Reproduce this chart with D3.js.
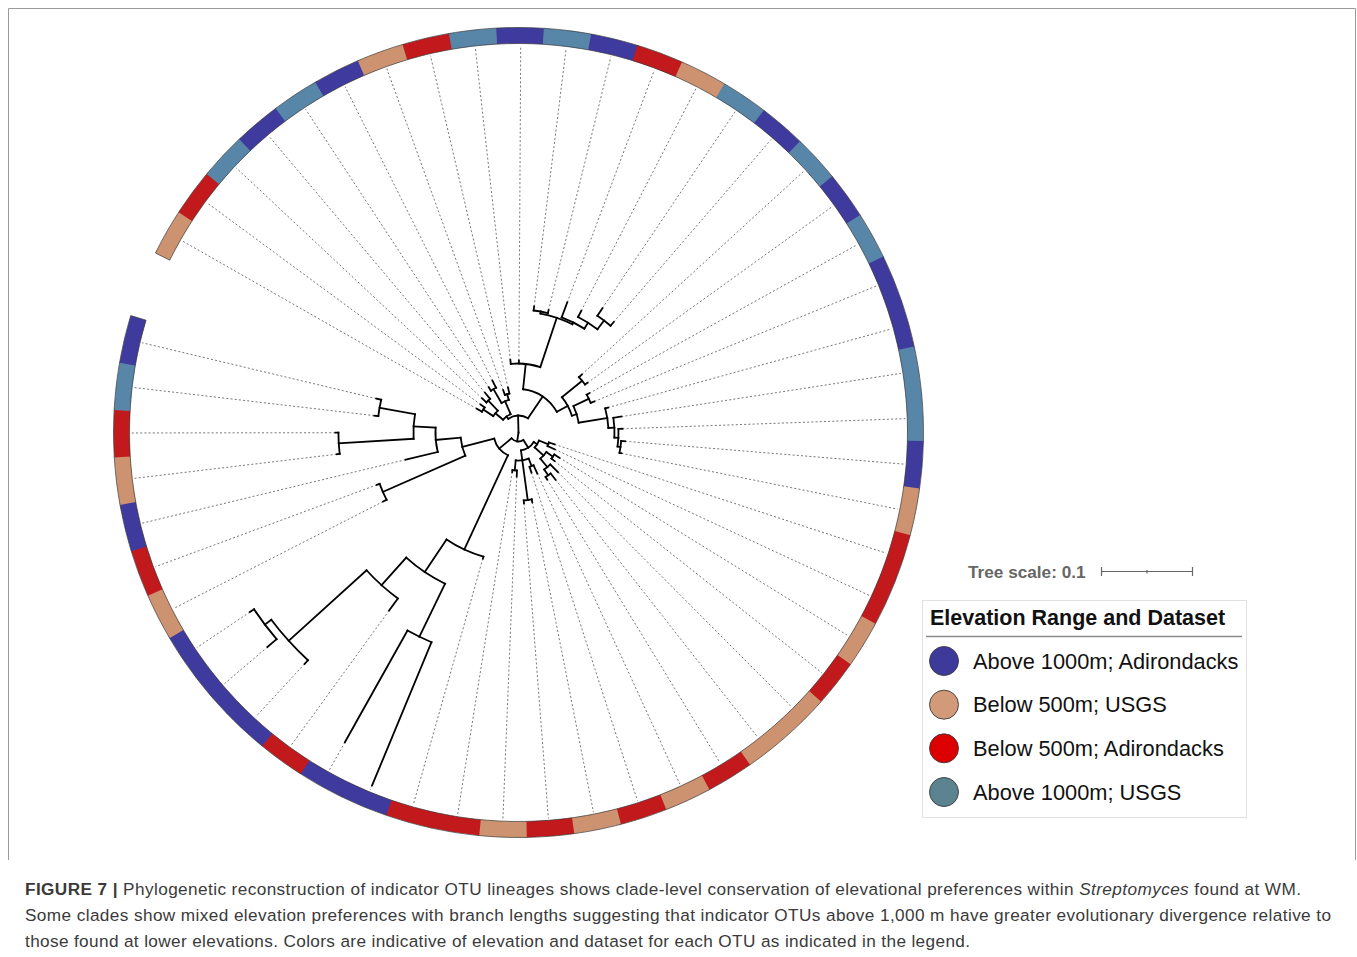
<!DOCTYPE html>
<html>
<head>
<meta charset="utf-8">
<script src="https://cdn.jsdelivr.net/npm/d3@7"></script>
<style>
  html, body { margin: 0; padding: 0; background: #fff; }
  svg { display: block; }
</style>
</head>
<body>
<svg id="chart" width="1357" height="957"></svg>
<script>
// ---------------- DATA ----------------
// Legend categories (elevation range and dataset)
const categories = ["Above 1000m; Adirondacks", "Below 500m; USGS", "Below 500m; Adirondacks", "Above 1000m; USGS"];
const ringColors   = ["#3f3a9e", "#cd9370", "#c21a1c", "#5886a8"];
const legendColors = ["#3d3a9b", "#d29a78", "#dd0000", "#5c8490"];

// Category of each OTU (leaf), clockwise from the gap
const leafCategory = [
  1, 2, 3, 0, 3, 0, 1, 2, 3, 0,
  3, 0, 2, 1, 3, 0, 3, 0, 3, 0,
  0, 3, 3, 0, 1, 2, 2, 1, 2, 1,
  1, 2, 1, 2, 1, 2, 1, 2, 2, 0,
  0, 2, 0, 0, 0, 1, 2, 0, 1, 2,
  3, 0
];

// Tree (Newick sub-clades, branch lengths in substitutions/site)
const cladeULa = "(((L0:0.0066,L1:0.0055):0.0132,(L2:0.0066,L3:0.0088):0.0154):0.011,((L4:0.0044,L5:0.0088):0.0176,(L6:0.0055,L7:0.0066):0.0066):0.0154):0.0033";
const cladeTop = "(L8:0.0044,L9:0.0033,((L10:0.0044,L11:0.0033):0.0022,(L12:0.0176,(L13:0.0077,(L14:0.0099,L15:0.0055):0.0121):0.0077):0.0022):0.0571):0.028";
const cladeRight = "((L16:0.0044,L17:0.0033):0.0286,((L18:0.0033,L19:0.0044):0.0187,(L20:0.0033,(L21:0.0088,(L22:0.0044,(L23:0.0044,L24:0.0022):0.0033):0.0044):0.0066):0.0319):0.0055):0.0137";
const cladeLRa = "((L25:0.0066,L26:0.0088):0.011,((L27:0.0066,L28:0.0044):0.0088,(L29:0.0121,(L30:0.0088,L31:0.0033):0.0077):0.0121):0.0132):0.0044";
const cladeLRb = "((L32:0.0099,L33:0.0066):0.0088,(L34:0.0033,L35:0.0033):0.044,(L36:0.0066,L37:0.0022):0.011):0.011";
const cladeLong = "(L38:0.0022,((L39:0.1703,L40:0.1407):0.0648,(L41:0.0165,(L42:0.0055,(L43:0.0132,L44:0.0055):0.0088):0.1154):0.0407):0.0429):0.1143";
const cladeLeft = "((L45:0.0044,L46:0.0033):0.0989,(L47:0.0363,((L48:0.0033,L49:0.0033):0.0824,(L50:0.0044,L51:0.0055):0.0396):0.0242):0.0275):0.0363";

const treeNewick = "((" + cladeULa + ",(" + cladeTop + "," + cladeRight + "):0.0291):0.0187," +
  "((" + cladeLRa + "," + cladeLRb + "):0.0099,(" + cladeLong + "," + cladeLeft + "):0.0176):0.0099);";

const treeScaleValue = 0.1;
const scaleLabel = "Tree scale: 0.1";
const legendTitle = "Elevation Range and Dataset";

const captionBold = "FIGURE 7 | ";
const captionLine1a = "Phylogenetic reconstruction of indicator OTU lineages shows clade-level conservation of elevational preferences within ";
const captionItalic = "Streptomyces";
const captionLine1b = " found at WM.";
const captionLine2 = "Some clades show mixed elevation preferences with branch lengths suggesting that indicator OTUs above 1,000 m have greater evolutionary divergence relative to";
const captionLine3 = "those found at lower elevations. Colors are indicative of elevation and dataset for each OTU as indicated in the legend.";

// ---------------- PARSE ----------------
function parseNewick(s) {
  let i = 0;
  function node() {
    const n = { children: [] };
    if (s[i] === "(") {
      i++;
      n.children.push(node());
      while (s[i] === ",") { i++; n.children.push(node()); }
      i++; // ')'
    }
    let name = "";
    while (i < s.length && !":,);".includes(s[i])) name += s[i++];
    n.name = name;
    if (s[i] === ":") {
      i++;
      let num = "";
      while (i < s.length && !",);".includes(s[i])) num += s[i++];
      n.length = +num;
    } else n.length = 0;
    if (!n.children.length) delete n.children;
    return n;
  }
  return node();
}

// ---------------- LAYOUT ----------------
const svg = d3.select("#chart");
const cx = 518.5, cy = 432.5;
const ringInner = 389, ringOuter = 405, dashEnd = 387;
const nLeaves = leafCategory.length;
const startDeg = 296.3, stepDeg = 6.74;

const angle = d3.scaleLinear().domain([0, nLeaves]).range([startDeg, startDeg + nLeaves * stepDeg]);
const radius = d3.scaleLinear().domain([0, treeScaleValue]).range([0, 91]);

const root = d3.hierarchy(parseNewick(treeNewick));
root.each(d => { d.dist = d.parent ? d.parent.dist + d.data.length : 0; });
root.leaves().forEach((d, i) => { d.index = i; });
root.eachAfter(d => {
  if (!d.children) d.theta = angle(d.index + 0.5);
  else d.theta = (d.children[0].theta + d.children[d.children.length - 1].theta) / 2;
});

const rad = deg => deg * Math.PI / 180;
function pt(r, thetaDeg) {
  const t = rad(thetaDeg);
  return [cx + r * Math.sin(t), cy - r * Math.cos(t)];
}

// ---------------- BORDER ----------------
svg.append("path")
  .attr("d", "M8.5,860 L8.5,8.5 L1355.5,8.5 L1355.5,860")
  .attr("fill", "none").attr("stroke", "#9a9a9a").attr("stroke-width", 1);

// ---------------- RING ----------------
const gRing = svg.append("g").attr("transform", `translate(${cx},${cy})`);
const ringArc = d3.arc().innerRadius(ringInner).outerRadius(ringOuter);
gRing.selectAll("path.seg")
  .data(leafCategory)
  .join("path")
  .attr("class", "seg")
  .attr("d", (c, i) => ringArc({
    startAngle: rad(angle(i)) - (i > 0 ? 0.002 : 0),
    endAngle: rad(angle(i + 1)) + (i < nLeaves - 1 ? 0.002 : 0)
  }))
  .attr("fill", c => ringColors[c]);
gRing.append("path")
  .attr("d", ringArc({ startAngle: rad(angle(0)), endAngle: rad(angle(nLeaves)) }))
  .attr("fill", "none").attr("stroke", "#3a3a3a").attr("stroke-width", 0.7);

// ---------------- DASHED LEADERS ----------------
const gDash = svg.append("g");
gDash.selectAll("line")
  .data(root.leaves())
  .join("line")
  .each(function (d) {
    const a = pt(radius(d.dist), d.theta), b = pt(dashEnd, d.theta);
    d3.select(this).attr("x1", a[0]).attr("y1", a[1]).attr("x2", b[0]).attr("y2", b[1]);
  })
  .attr("stroke", "#777").attr("stroke-width", 1)
  .attr("stroke-dasharray", "2,2.2");

// ---------------- TREE ----------------
const gTree = svg.append("g");
const branches = root.descendants().filter(d => d.parent);
gTree.selectAll("path.radial")
  .data(branches)
  .join("path")
  .attr("class", "radial")
  .attr("d", d => {
    const a = pt(radius(d.parent.dist), d.theta), b = pt(radius(d.dist), d.theta);
    return `M${a[0]},${a[1]}L${b[0]},${b[1]}`;
  });
const internals = root.descendants().filter(d => d.children && d.dist > 0);
gTree.selectAll("path.arc")
  .data(internals)
  .join("path")
  .attr("class", "arc")
  .attr("d", d => {
    const r = radius(d.dist);
    const t0 = d.children[0].theta, t1 = d.children[d.children.length - 1].theta;
    const p = d3.path();
    const s = pt(r, t0);
    p.moveTo(s[0], s[1]);
    p.arc(cx, cy, r, rad(t0 - 90), rad(t1 - 90), false);
    return p.toString();
  });
gTree.selectAll("path")
  .attr("fill", "none").attr("stroke", "#000").attr("stroke-width", 1.8)
  .attr("stroke-linecap", "square");

// ---------------- TREE SCALE ----------------
const font = "'Liberation Sans', Arial, Helvetica, sans-serif";
svg.append("text")
  .attr("x", 968).attr("y", 577.5)
  .attr("font-family", font).attr("font-size", 17.2).attr("font-weight", "bold")
  .attr("fill", "#666").text(scaleLabel);
const sx0 = 1101.5, sx1 = sx0 + radius(treeScaleValue), sy = 571.5;
const gScale = svg.append("g").attr("stroke", "#666").attr("stroke-width", 1.2);
gScale.append("line").attr("x1", sx0).attr("x2", sx1).attr("y1", sy).attr("y2", sy);
gScale.append("line").attr("x1", sx0).attr("x2", sx0).attr("y1", sy - 4.5).attr("y2", sy + 4.5);
gScale.append("line").attr("x1", sx1).attr("x2", sx1).attr("y1", sy - 4.5).attr("y2", sy + 4.5);
gScale.append("line").attr("x1", (sx0 + sx1) / 2).attr("x2", (sx0 + sx1) / 2).attr("y1", sy - 1.5).attr("y2", sy + 2);

// ---------------- LEGEND ----------------
const gLeg = svg.append("g");
gLeg.append("rect").attr("x", 922.5).attr("y", 600.5).attr("width", 324).attr("height", 217)
  .attr("fill", "#fff").attr("stroke", "#e2e2e2").attr("stroke-width", 1);
gLeg.append("text").attr("x", 930).attr("y", 625)
  .attr("font-family", font).attr("font-size", 21.5).attr("font-weight", "bold")
  .attr("fill", "#111").text(legendTitle);
gLeg.append("line").attr("x1", 926).attr("x2", 1242).attr("y1", 636.5).attr("y2", 636.5)
  .attr("stroke", "#8a8a8a").attr("stroke-width", 1.5);
const legY = d3.scalePoint().domain(categories).range([661, 792]);
const items = gLeg.selectAll("g.item").data(categories).join("g").attr("class", "item");
items.append("circle").attr("cx", 944).attr("cy", d => legY(d)).attr("r", 14.5)
  .attr("fill", (d, i) => legendColors[i]).attr("stroke", "#3a3a3a").attr("stroke-width", 0.9);
items.append("text").attr("x", 973).attr("y", d => legY(d) + 7.5)
  .attr("font-family", font).attr("font-size", 21.8).attr("fill", "#111").text(d => d);

// ---------------- CAPTION ----------------
const capFont = "'Liberation Sans', Arial, Helvetica, sans-serif";
const t1 = svg.append("text").attr("x", 25).attr("y", 895)
  .attr("font-family", capFont).attr("font-size", 17.2).attr("fill", "#3a3a3a")
  .attr("textLength", 1276).attr("lengthAdjust", "spacing");
t1.append("tspan").attr("font-weight", "bold").text(captionBold);
t1.append("tspan").text(captionLine1a);
t1.append("tspan").attr("font-style", "italic").text(captionItalic);
t1.append("tspan").text(captionLine1b);
svg.append("text").attr("x", 25).attr("y", 921)
  .attr("font-family", capFont).attr("font-size", 17.2).attr("fill", "#3a3a3a")
  .attr("textLength", 1306).attr("lengthAdjust", "spacing").text(captionLine2);
svg.append("text").attr("x", 25).attr("y", 946.5)
  .attr("font-family", capFont).attr("font-size", 17.2).attr("fill", "#3a3a3a")
  .attr("textLength", 945).attr("lengthAdjust", "spacing").text(captionLine3);
</script>
</body>
</html>
